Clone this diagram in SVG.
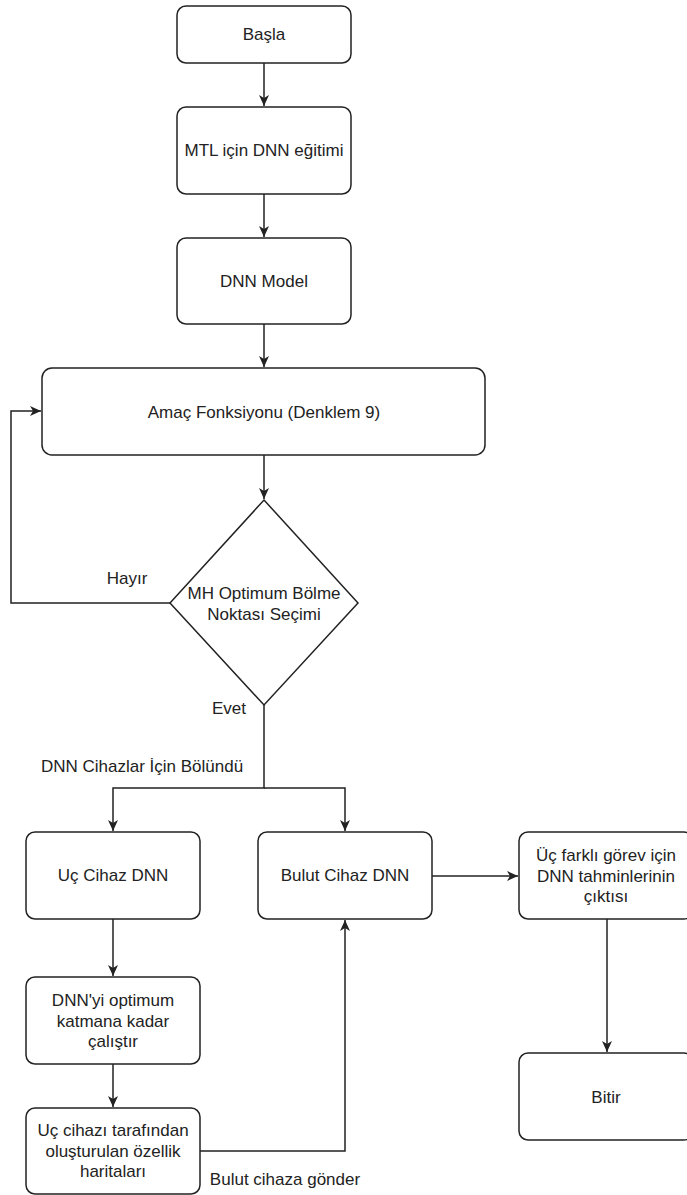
<svg xmlns="http://www.w3.org/2000/svg" width="687" height="1195" viewBox="0 0 687 1195">
<style>
.box{fill:#fff;stroke:#222;stroke-width:1.5}
.t{font-family:"Liberation Sans",Arial,sans-serif;font-size:17px;fill:#222;text-anchor:middle}
.c{fill:none;stroke:#222;stroke-width:1.5}
</style>
<defs>
<marker id="ah" markerUnits="userSpaceOnUse" markerWidth="12" markerHeight="10" viewBox="0 0 12 10" refX="11" refY="5" orient="auto">
<path d="M0,0 L11,5 L0,10 L3,5 z" fill="#222"/>
</marker>
</defs>
<rect width="687" height="1195" fill="#fff"/>
<g id="connectors">
<path class="c" d="M264,63 V106" marker-end="url(#ah)"/>
<path class="c" d="M264,194 V237" marker-end="url(#ah)"/>
<path class="c" d="M264,324 V367" marker-end="url(#ah)"/>
<path class="c" d="M264,455 V499" marker-end="url(#ah)"/>
<path class="c" d="M170,603 H11 V411 H41" marker-end="url(#ah)"/>
<path class="c" d="M264,705 V788 H113 V831" marker-end="url(#ah)"/>
<path class="c" d="M264,788 H345 V831" marker-end="url(#ah)"/>
<path class="c" d="M113,919 V976" marker-end="url(#ah)"/>
<path class="c" d="M113,1064 V1107" marker-end="url(#ah)"/>
<path class="c" d="M200,1151 H345 V920" marker-end="url(#ah)"/>
<path class="c" d="M432,876 H518" marker-end="url(#ah)"/>
<path class="c" d="M607,919 V1052" marker-end="url(#ah)"/>
<text class="t" x="127" y="584">Hayır</text>
<text class="t" x="229" y="714">Evet</text>
<text class="t" x="142" y="772">DNN Cihazlar İçin Bölündü</text>
<text class="t" x="285" y="1185">Bulut cihaza gönder</text>
</g>
<g id="basla">
<rect class="box" x="177" y="6" width="174" height="57" rx="9"/>
<text class="t" x="264" y="40">Başla</text>
</g>
<g id="mtl">
<rect class="box" x="177" y="107" width="174" height="87" rx="9"/>
<text class="t" x="264" y="156">MTL için DNN eğitimi</text>
</g>
<g id="dnnmodel">
<rect class="box" x="177" y="238" width="174" height="86" rx="9"/>
<text class="t" x="264" y="287">DNN Model</text>
</g>
<g id="amac">
<rect class="box" x="42" y="368" width="443" height="87" rx="10"/>
<text class="t" x="264" y="418">Amaç Fonksiyonu (Denklem 9)</text>
</g>
<g id="karar">
<polygon class="box" points="264,500 358,603 264,705 170,603"/>
<text class="t" x="264" y="599">MH Optimum Bölme</text>
<text class="t" x="264" y="620">Noktası Seçimi</text>
</g>
<g id="uccihaz">
<rect class="box" x="26" y="832" width="174" height="87" rx="9"/>
<text class="t" x="113" y="881">Uç Cihaz DNN</text>
</g>
<g id="bulut">
<rect class="box" x="258" y="832" width="174" height="87" rx="9"/>
<text class="t" x="345" y="881">Bulut Cihaz DNN</text>
</g>
<g id="cikti">
<rect class="box" x="519" y="832" width="174" height="87" rx="9"/>
<text class="t" x="606" y="861">Üç farklı görev için</text>
<text class="t" x="606" y="881.5">DNN tahminlerinin</text>
<text class="t" x="606" y="902">çıktısı</text>
</g>
<g id="calistir">
<rect class="box" x="26" y="977" width="174" height="87" rx="9"/>
<text class="t" x="113" y="1006">DNN'yi optimum</text>
<text class="t" x="113" y="1026.5">katmana kadar</text>
<text class="t" x="113" y="1047">çalıştır</text>
</g>
<g id="ozellik">
<rect class="box" x="26" y="1108" width="174" height="86" rx="9"/>
<text class="t" x="113" y="1136">Uç cihazı tarafından</text>
<text class="t" x="113" y="1156.5">oluşturulan özellik</text>
<text class="t" x="113" y="1177">haritaları</text>
</g>
<g id="bitir">
<rect class="box" x="519" y="1053" width="174" height="87" rx="9"/>
<text class="t" x="606" y="1103">Bitir</text>
</g>
</svg>
